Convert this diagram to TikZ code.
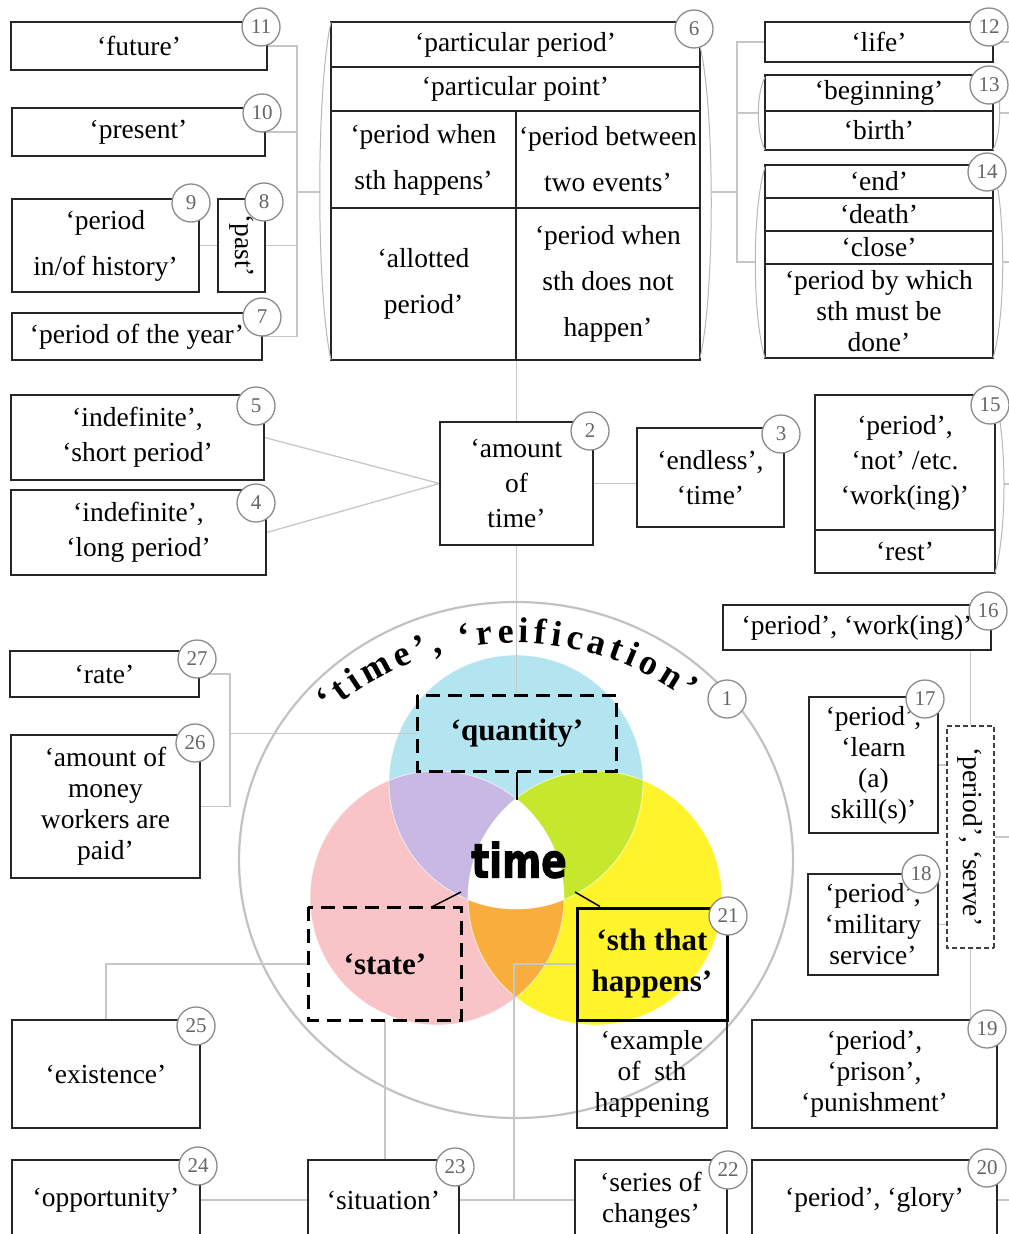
\documentclass[tikz,border=0pt]{standalone}
\usepackage{fontspec}
\setmainfont{Liberation Serif}
\newfontfamily\timefont{DejaVu Sans}[BoldFeatures={FakeBold=2.5}]
\usetikzlibrary{decorations.text,calc}
\pgfdeclarelayer{back}
\pgfdeclarelayer{mid}
\pgfsetlayers{back,mid,main}
\definecolor{cblue}{HTML}{B3E5F0}
\definecolor{cpink}{HTML}{F9C4C8}
\definecolor{cyellow}{HTML}{FFF32B}
\definecolor{cpurple}{HTML}{C9B7E4}
\definecolor{cgreen}{HTML}{C6E82C}
\definecolor{corange}{HTML}{F9AD3C}
\newcommand\myfA{\fontsize{27.5}{31}\selectfont}
\newcommand\myfB{\fontsize{27.5}{35}\selectfont}
\newcommand\myfC{\fontsize{27.5}{46}\selectfont}
\newcommand\myfD{\fontsize{31}{41}\selectfont\bfseries}
\newcommand\myfN{\fontsize{21}{21}\selectfont}
\newcommand\bx[7][]{\node[box,minimum width={(#5-#3)*1pt},minimum height={(#6-#4)*1pt},#1] (#2) at ({(#3+#5)/2},{(#4+#6)/2}) {#7};}
\newcommand\nm[3]{\node[numc] (n#1) at (#2,#3) {#1};}
\begin{document}
\begin{tikzpicture}[x=1pt,y=-1pt,
 box/.style={draw=black!85, line width=1.2pt, inner sep=0pt, align=center, font=\myfA},
 conn/.style={draw=black!22, line width=1.3pt},
 brk/.style={draw=black!28, line width=1pt},
 numc/.style={circle, draw=black!45, line width=1.3pt, fill=white, minimum size=38pt, inner sep=0pt, font=\myfN, text=black!60},
 dbox/.style={draw=black, line width=2.6pt, dash pattern=on 14pt off 8pt},
 blk/.style={draw=black, line width=1.5pt}]
\useasboundingbox (0,0) rectangle (1009,1234);

% ---------- Venn and ring ----------
\coordinate (B) at (516,782);
\coordinate (P) at (437,898);
\coordinate (Y) at (595,898);
\begin{pgfonlayer}{back}
\fill[white] (0,0) rectangle (1009,1234);
\draw[draw=black!24, line width=2.2pt] (516,860) ellipse [x radius=277pt, y radius=258pt];
\fill[cblue] (B) circle[radius=127pt];
\fill[cpink] (P) circle[radius=127pt];
\fill[cyellow] (Y) circle[radius=127pt];
\begin{scope}
 \clip (B) circle[radius=127pt];
 \fill[cpurple] (P) circle[radius=127pt];
 \fill[cgreen] (Y) circle[radius=127pt];
\end{scope}
\begin{scope}
 \clip (P) circle[radius=127pt];
 \fill[corange] (Y) circle[radius=127pt];
\end{scope}
\begin{scope}
 \clip (B) circle[radius=127pt];
 \clip (P) circle[radius=127pt];
 \fill[white] (Y) circle[radius=127pt];
\end{scope}
\draw[white, line width=0.9pt, opacity=0.6] (B) circle[radius=127pt] (P) circle[radius=127pt] (Y) circle[radius=127pt];
\end{pgfonlayer}

% ---------- boxes: upper left ----------
\bx{b11}{11}{22}{267}{70}{‘future’}
\bx{b10}{12}{108}{265}{156}{‘present’}
\bx[font=\myfC]{b9}{12}{199}{199}{292}{‘period\\in/of history’}
\node[box, rotate=-90, minimum width=93pt, minimum height=47pt] (b8) at (241.5,245.5) {‘past’};
\bx{b7}{12}{313}{262}{360}{‘period of the year’}

% ---------- table 6 ----------
\bx{t1}{331}{22}{700}{67}{‘particular period’}
\bx{t2}{331}{67}{700}{111}{‘particular point’}
\bx[font=\myfC]{t3}{331}{111}{516}{208}{‘period when\\sth happens’}
\bx[font=\myfC]{t4}{516}{111}{700}{208}{‘period between\\two events’}
\bx[font=\myfC]{t5}{331}{208}{516}{360}{‘allotted\\period’}
\bx[font=\myfC]{t6}{516}{208}{700}{360}{‘period when\\sth does not\\happen’}

% ---------- upper right ----------
\bx{b12}{765}{22}{993}{62}{‘life’}
\bx{b13a}{765}{75}{993}{111}{‘beginning’}
\bx{b13b}{765}{111}{993}{150}{‘birth’}
\bx{b14a}{765}{165}{993}{198}{‘end’}
\bx{b14b}{765}{198}{993}{231}{‘death’}
\bx{b14c}{765}{231}{993}{264}{‘close’}
\bx{b14d}{765}{264}{993}{358}{‘period by which\\sth must be\\done’}

% ---------- middle row ----------
\bx[font=\myfB]{b5}{11}{395}{264}{480}{‘indefinite’,\\‘short period’}
\bx[font=\myfB]{b4}{11}{490}{266}{575}{‘indefinite’,\\‘long period’}
\bx[font=\myfB]{b2}{440}{422}{593}{545}{‘amount\\of\\time’}
\bx[font=\myfB]{b3}{637}{428}{784}{527}{‘endless’,\\‘time’}
\bx[font=\myfB]{b15a}{815}{395}{995}{530}{‘period’,\\‘not’ /etc.\\‘work(ing)’}
\bx{b15b}{815}{530}{995}{573}{‘rest’}

% ---------- right column ----------
\bx{b16}{723}{605}{991}{650}{‘period’, ‘work(ing)’}
\bx{b17}{809}{697}{938}{833}{‘period’,\\‘learn\\(a)\\skill(s)’}
\bx{b18}{808}{874}{938}{975}{‘period’,\\‘military\\service’}
\node[box, rotate=-90, minimum width=222pt, minimum height=47pt, draw=black!75, line width=1.1pt, dash pattern=on 5pt off 3pt] (ds) at (970.5,837) {‘period’, ‘serve’};
\bx{b19}{752}{1020}{997}{1128}{‘period’,\\‘prison’,\\‘punishment’}
\bx{b20}{752}{1160}{997}{1240}{‘period’, ‘glory’}

% ---------- left column ----------
\bx{b27}{10}{651}{199}{697}{‘rate’}
\bx{b26}{11}{735}{200}{878}{‘amount of\\money\\workers are\\paid’}
\bx{b25}{12}{1020}{200}{1128}{‘existence’}
\bx{b24}{12}{1160}{200}{1240}{‘opportunity’}
\bx{b23}{308}{1160}{459}{1240}{‘situation’}
\bx{b22}{575}{1160}{727}{1240}{‘series of\\changes’}

% ---------- centre boxes ----------
\bx[draw=none]{q}{418}{696}{616}{771}{\myfD ‘quantity’}
\draw[dbox] (q.north west) rectangle (q.south east);
\bx[draw=none]{s}{309}{908}{461}{1020}{\myfD ‘state’}
\draw[dbox] (s.north west) rectangle (s.south east);
\bx{ex}{577}{1020}{727}{1128}{‘example\\of~~sth\\happening}
\bx[line width=3pt, draw=black, font=\myfD]{b21}{577}{908}{727}{1020}{‘sth that\\happens’}

% ---------- brackets ----------
\draw[brk] (331,22) .. controls (316,90) and (316,292) .. (331,360);
\draw[brk] (700,46) .. controls (715,110) and (715,294) .. (700,358);
\draw[brk] (765,77) .. controls (756,95) and (756,132) .. (765,150);
\draw[brk] (993,77) .. controls (1002,95) and (1002,132) .. (993,150);
\draw[brk] (765,167) .. controls (752,210) and (752,315) .. (765,358);
\draw[brk] (993,167) .. controls (1006,210) and (1006,315) .. (993,358);
\draw[brk] (995,397) .. controls (1007,440) and (1007,530) .. (995,573);
\coordinate (brL6) at (320,192);
\coordinate (brR6) at (711,192);
\coordinate (brL13) at (758,113);
\coordinate (brR13) at (1000,113);
\coordinate (brL14) at (755,262);
\coordinate (brR14) at (1003,262);
\coordinate (brR15) at (1004,484);

% ---------- connectors ----------
\begin{pgfonlayer}{mid}
\coordinate (bL) at (297,192);
\draw[conn] (b11.east) -| (bL);
\draw[conn] (b10.east) -| (bL);
\draw[conn] (b8.north) -| (bL);
\draw[conn] (b7.east) -| (bL);
\draw[conn] (bL) -- (brL6);
\draw[conn] (b9.east) -- (b8.south);
\coordinate (bR) at (737,192);
\draw[conn] (brR6) -- (bR);
\draw[conn] (b12.west) -| (bR);
\draw[conn] (brL13) -| (bR);
\draw[conn] (brL14) -| (bR);
\coordinate (e12) at (1009,42);
\coordinate (e13) at (1009,113);
\coordinate (e14) at (1009,262);
\coordinate (e15) at (1009,484);
\coordinate (eds) at (1009,837);
\coordinate (e20) at (1009,1200);
\draw[conn] (b12.east) -- (e12);
\draw[conn] (brR13) -- (e13);
\draw[conn] (brR14) -- (e14);
\draw[conn] (brR15) -- (e15);
\draw[conn] (ds.north) -- (eds);
\draw[conn] (b20.east) -- (e20);
\draw[conn] (t5.south east) -- (t5.south east |- b2.north);
\draw[conn] (b5.east) -- (b2.west) -- (b4.east);
\draw[conn] (b2.east) -- (b2.east -| b3.west);
\draw[conn] (b2.south) -- (b2.south |- q.north);
\coordinate (bQ) at (230,733.5);
\draw[conn] (b27.east) -| (bQ) |- (b26.east);
\draw[conn] (bQ) -- (q.west);
\draw[conn] (s.west) -| (b25.north);
\draw[conn] (s.south) -- (s.south |- b23.north);
\draw[conn] (b24.east) -- (b23.west);
\draw[conn] (b23.east) -- (b22.west);
\coordinate (j22) at (514,1200);
\draw[conn] (b21.west) -| (j22);
\draw[conn] (ds.west) -- (ds.west |- b16.south);
\draw[conn] (ds.east) -- (ds.east |- b19.north);
\draw[conn] (b17.east) -- (b17.east -| ds.south);
\draw[conn] (b18.east) -- (b18.east -| ds.south);
\end{pgfonlayer}

% ---------- black links to centre ----------
\coordinate (tTop) at (516,800);
\coordinate (tL) at (461,892);
\coordinate (tR) at (575,892);
\draw[blk] (q.south) -- (q.south |- tTop);
\draw[blk] ($(s.north west)!0.8!(s.north east)$) -- (tL);
\draw[blk] ($(b21.north west)!0.16!(b21.north east)$) -- (tR);

% ---------- centre word ----------
\node[font=\timefont\fontsize{47}{47}\selectfont\bfseries, xscale=0.8, inner sep=0pt] (tm) at (519,860) {time};

% ---------- arc title ----------
\path[decorate, decoration={text along path, text align={fit to path},
  text={|\fontsize{36}{36}\selectfont\bfseries|‘time’, ‘reification’}}]
  (516,928) ++(131:285pt) arc[start angle=131, end angle=53, radius=285pt];

% ---------- number circles ----------
\nm{11}{261}{27}
\nm{10}{262}{113}
\nm{9}{191}{203}
\nm{8}{264}{202}
\nm{7}{262}{317}
\nm{6}{694}{29}
\nm{12}{989}{27}
\nm{13}{989}{85}
\nm{14}{987}{172}
\nm{5}{256}{406}
\nm{4}{256}{503}
\nm{2}{590}{431}
\nm{3}{781}{434}
\nm{15}{990}{405}
\nm{16}{988}{611}
\nm{1}{727}{699}
\nm{27}{197}{659}
\nm{26}{195}{743}
\nm{17}{925}{699}
\nm{18}{921}{874}
\nm{21}{728}{916}
\nm{25}{196}{1026}
\nm{19}{987}{1029}
\nm{24}{198}{1166}
\nm{23}{455}{1167}
\nm{22}{728}{1170}
\nm{20}{987}{1168}
\end{tikzpicture}
\end{document}
